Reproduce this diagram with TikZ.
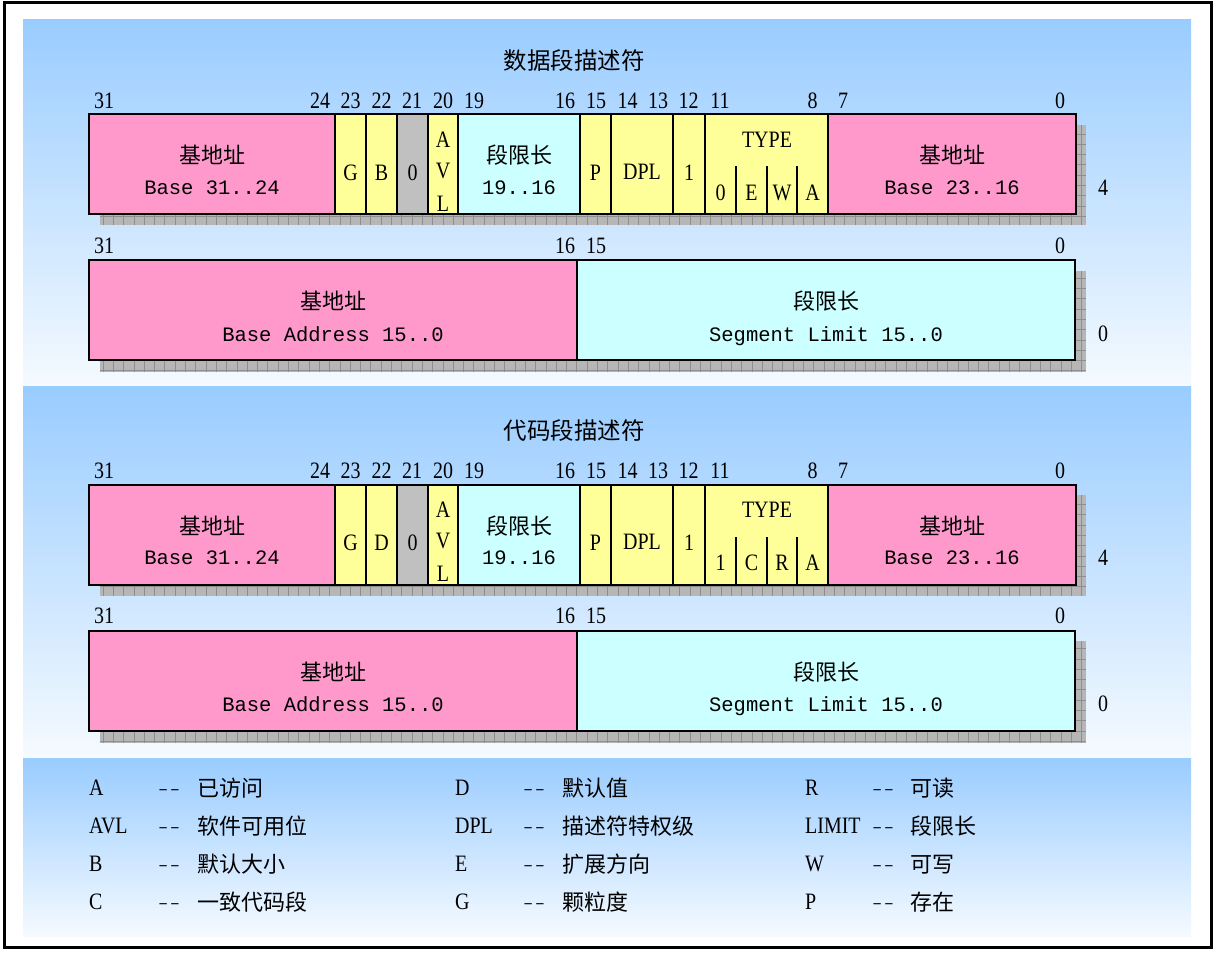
\documentclass[tikz,border=0pt]{standalone}
\usepackage{fontspec}
\newfontfamily\cjk{Noto Sans CJK SC}
\newfontfamily\lab[FakeStretch=0.85]{Liberation Serif}
\newfontfamily\mono{Liberation Mono}
\definecolor{pnltop}{HTML}{99CCFF}
\definecolor{pnlbot}{HTML}{F5FAFF}
\definecolor{pinkf}{HTML}{FF99CC}
\definecolor{yelf}{HTML}{FFFF99}
\definecolor{grayf}{HTML}{C0C0C0}
\definecolor{cyanf}{HTML}{CCFFFF}
\definecolor{shadf}{HTML}{B6B6B6}
\definecolor{shadl}{HTML}{8E8E8E}
\tikzset{
  fbox/.style={draw=black,line width=2pt,inner sep=0pt,outer sep=0pt},
  num/.style={font=\lab\fontsize{23.5}{23.5}\selectfont,anchor=base,inner sep=0pt},
  cn/.style={font=\cjk\fontsize{22}{22}\selectfont,anchor=base,inner sep=0pt},
  ttl/.style={font=\cjk\fontsize{23.5}{23.5}\selectfont,anchor=base,inner sep=0pt},
  mn/.style={font=\mono\fontsize{20.5}{20.5}\selectfont,anchor=base,inner sep=0pt},
  lgl/.style={font=\lab\fontsize{23.5}{23.5}\selectfont,anchor=base west,inner sep=0pt},
  lgd/.style={font=\mono\fontsize{17}{17}\selectfont,anchor=base west,inner sep=0pt},
  lgc/.style={font=\cjk\fontsize{22}{22}\selectfont,anchor=base west,inner sep=0pt},
  panel/.style={top color=pnltop,bottom color=pnlbot,draw=none},
  subline/.style={line width=2pt},
}
\newcommand\fld[6]{%
  \pgfmathsetmacro\fw{#3-#2}%
  \node[fbox,fill=#6,minimum width=\fw pt,minimum height=#5pt,anchor=north west] (#1) at (#2,#4) {};}
\newcommand\shadowbox[4]{%
  \begin{scope}
    \clip (#1,#2) rectangle (#3,#4);
    \fill[shadf] (#1,#2) rectangle (#3,#4);
    \draw[shadl,line width=0.7pt,xstep=10.3pt,ystep=10.3pt] (#1,#2) grid (#3,#4);
  \end{scope}}
\newcommand\Desc[8]{%
  % #1 prefix, #2 dy, #3 title, #4 B/D letter, #5-#8 type letters
  \begin{scope}[shift={(0,#2)}]
    \node[ttl] (#1title) at (574,69) {#3};
    \foreach \b/\x in {31/104,24/320,23/350.5,22/381.5,21/412,20/443,19/474,16/565,15/596,14/627.5,13/658,12/688.5,11/720,8/812.5,7/843,0/1060}
      \node[num] (#1b\b) at (\x,108) {\b};
    \shadowbox{99.5}{124.5}{1086}{225}
    \fld{#1base3}{89}{335}{114}{100}{pinkf}
    \fld{#1g}{335}{366}{114}{100}{yelf}
    \fld{#1bd}{366}{397}{114}{100}{yelf}
    \fld{#1z}{397}{428}{114}{100}{grayf}
    \fld{#1avl}{428}{458}{114}{100}{yelf}
    \fld{#1lim}{458}{580}{114}{100}{cyanf}
    \fld{#1p}{580}{611}{114}{100}{yelf}
    \fld{#1dpl}{611}{673}{114}{100}{yelf}
    \fld{#1s}{673}{705}{114}{100}{yelf}
    \fld{#1type}{705}{828}{114}{100}{yelf}
    \fld{#1base2}{828}{1076}{114}{100}{pinkf}
    \draw[subline] ([xshift=31pt]#1type.south west) -- ++(0,-48);
    \draw[subline] ([xshift=62pt]#1type.south west) -- ++(0,-48);
    \draw[subline] ([xshift=92pt]#1type.south west) -- ++(0,-48);
    \node[cn] (#1tb3a) at (212,163.5) {基地址};
    \node[mn] (#1tb3b) at (212,194) {Base 31..24};
    \node[num] (#1tg) at (350.5,180) {G};
    \node[num] (#1tbd) at (381.5,180) {#4};
    \node[num] (#1tz) at (412.5,180) {0};
    \node[num] (#1ta) at (443,147) {A};
    \node[num] (#1tv) at (443,178) {V};
    \node[num] (#1tl) at (443,211) {L};
    \node[cn] (#1tlima) at (519,163.5) {段限长};
    \node[mn] (#1tlimb) at (519,194) {19..16};
    \node[num] (#1tp) at (595.5,180) {P};
    \node[num] (#1tdpl) at (642,179) {DPL};
    \node[num] (#1ts) at (689,180) {1};
    \node[num] (#1ttype) at (767,147) {TYPE};
    \node[num] (#1tt1) at (720.5,200) {#5};
    \node[num] (#1tt2) at (751.5,200) {#6};
    \node[num] (#1tt3) at (782,200) {#7};
    \node[num] (#1tt4) at (812.5,200) {#8};
    \node[cn] (#1tb2a) at (952,163.5) {基地址};
    \node[mn] (#1tb2b) at (952,194) {Base 23..16};
    \node[num] (#1side4) at (1103,195) {4};
    % second word
    \node[num] (#1c31) at (104,253) {31};
    \node[num] (#1c16) at (565,253) {16};
    \node[num] (#1c15) at (596,253) {15};
    \node[num] (#1c0) at (1060,253) {0};
    \shadowbox{99.5}{270.5}{1086}{372}
    \fld{#1baselo}{89}{577}{260}{100}{pinkf}
    \fld{#1limlo}{577}{1075}{260}{100}{cyanf}
    \node[cn] (#1tbla) at (333,309.5) {基地址};
    \node[mn] (#1tblb) at (333,341) {Base Address 15..0};
    \node[cn] (#1tlla) at (826,309.5) {段限长};
    \node[mn] (#1tllb) at (826,341) {Segment Limit 15..0};
    \node[num] (#1side0) at (1103,341) {0};
  \end{scope}}
\newcommand\leg[7]{% name, xl, xd, xc, center y, letter, chinese
  \node[lgl] (#1l) at (#2,#5+7.6) {#6};
  \node[lgd] (#1d) at (#3,#5+6.5) {–\kern1.5pt–};
  \node[lgc] (#1c) at (#4,#5+8.4) {#7};}
\begin{document}
\begin{tikzpicture}[x=1pt,y=-1pt]
  \fill[white] (0,0) rectangle (1216,953);
  \useasboundingbox (0,0) rectangle (1216,953);
  \shade[panel] (23,19) rectangle (1191,386);
  \shade[panel] (23,386) rectangle (1191,757);
  \shade[panel] (23,758) rectangle (1191,936);
  \draw[line width=2.5pt] (4.5,2.5) rectangle (1211.5,947.5);
  \Desc{d}{0}{数据段描述符}{B}{0}{E}{W}{A}
  \Desc{c}{370.5}{代码段描述符}{D}{1}{C}{R}{A}
  % legend
  \leg{la}{89}{158}{197}{788}{A}{已访问}
  \leg{lavl}{89}{158}{197}{826}{AVL}{软件可用位}
  \leg{lb}{89}{158}{197}{864}{B}{默认大小}
  \leg{lcc}{89}{158}{197}{902}{C}{一致代码段}
  \leg{ld}{455}{523}{562}{788}{D}{默认值}
  \leg{ldpl}{455}{523}{562}{826}{DPL}{描述符特权级}
  \leg{le}{455}{523}{562}{864}{E}{扩展方向}
  \leg{lg}{455}{523}{562}{902}{G}{颗粒度}
  \leg{lr}{805}{872}{910}{788}{R}{可读}
  \leg{llim}{805}{872}{910}{826}{LIMIT}{段限长}
  \leg{lw}{805}{872}{910}{864}{W}{可写}
  \leg{lp}{805}{872}{910}{902}{P}{存在}
\end{tikzpicture}
\end{document}
